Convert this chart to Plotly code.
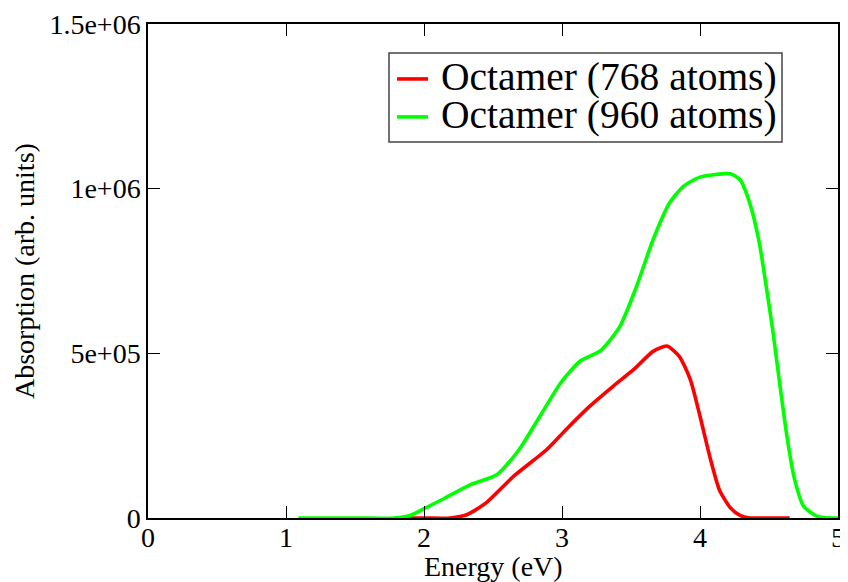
import plotly.graph_objects as go

# Octamer (768 atoms)
energy_768 = [1.79, 2.0, 2.19, 2.31, 2.45, 2.65, 2.89, 3.03, 3.20, 3.37, 3.52, 3.66, 3.76,
              3.85, 3.93, 4.00, 4.07, 4.14, 4.22, 4.29, 4.36, 4.50, 4.65]
absorb_768 = [0, 0, 0, 10e3, 46e3, 127e3, 208e3, 269e3, 339e3, 400e3, 451e3, 506e3, 522e3,
              491e3, 420e3, 309e3, 188e3, 86e3, 31e3, 8e3, 0, 0, 0]

# Octamer (960 atoms)
energy_960 = [1.09, 1.5, 1.78, 1.90, 1.99, 2.15, 2.33, 2.53, 2.69, 2.84, 2.99, 3.13, 3.28,
              3.42, 3.54, 3.66, 3.78, 3.88, 4.00, 4.22, 4.29, 4.36, 4.43, 4.48, 4.53,
              4.58, 4.63, 4.68, 4.75, 4.85, 4.96, 5.0]
absorb_960 = [0, 0, 0, 8e3, 26e3, 60e3, 100e3, 132e3, 208e3, 309e3, 410e3, 476e3, 508e3,
              582e3, 703e3, 845e3, 957e3, 1007e3, 1035e3, 1045e3, 1027e3, 957e3, 835e3,
              703e3, 562e3, 400e3, 248e3, 127e3, 36e3, 5e3, 0, 0]

series_names = ["Octamer (768 atoms)", "Octamer (960 atoms)"]
series_colors = ["#ff0000", "#00ff00"]

x_ticks = [0, 1, 2, 3, 4, 5]
y_ticks = [0, 5e5, 1e6, 1.5e6]
y_tick_labels = ["0", "5e+05", "1e+06", "1.5e+06"]

FONT = "Liberation Serif, Times New Roman, serif"

# page offset (default body margin) and plot-area geometry in window pixels
OFF = 8
W, H = 848 - OFF, 582 - OFF
PL, PR, PT, PB = 148, 838, 24, 518.5          # plot area in window pixels
L, R, T, B = PL - OFF, (OFF + W) - PR, PT - OFF, (OFF + H) - PB


def px(xp):
    return (xp - PL) / (PR - PL)


def py(yp):
    return (PB - yp) / (PB - PT)


fig = go.Figure()
fig.add_trace(go.Scatter(x=energy_768, y=absorb_768, mode="lines",
                         line=dict(color=series_colors[0], width=3.6, shape="spline", smoothing=0.6),
                         name=series_names[0], showlegend=False))
fig.add_trace(go.Scatter(x=energy_960, y=absorb_960, mode="lines",
                         line=dict(color=series_colors[1], width=3.6, shape="spline", smoothing=0.6),
                         name=series_names[1], showlegend=False))

axis_common = dict(showline=True, linecolor="black", linewidth=1.5, mirror="allticks",
                   ticks="inside", ticklen=12, tickwidth=1.2, tickcolor="black",
                   showgrid=False, zeroline=False, automargin=False,
                   tickfont=dict(family=FONT, size=28, color="black"))

fig.update_xaxes(range=[0, 5], tickvals=x_ticks, ticktext=[str(v) for v in x_ticks],
                 ticklabelstandoff=-6, **axis_common)
fig.update_yaxes(range=[0, 1.5e6], tickvals=y_ticks, ticktext=y_tick_labels,
                 **axis_common)

annotations = [
    dict(text="Energy (eV)", xref="paper", yref="paper", x=0.5, y=py(567),
         xanchor="center", yanchor="middle", showarrow=False,
         font=dict(family=FONT, size=28, color="black")),
    dict(text="Absorption (arb. units)", xref="paper", yref="paper", x=px(24), y=0.5,
         xanchor="center", yanchor="middle", showarrow=False, textangle=-90,
         font=dict(family=FONT, size=28, color="black")),
]

# custom legend (box, line samples, labels)
shapes = [dict(type="rect", xref="paper", yref="paper",
               x0=px(389), x1=px(782), y0=py(142), y1=py(53),
               line=dict(color="#444", width=1.5), fillcolor="white", layer="above")]
legend_rows = [79, 117]
for name, color, row in zip(series_names, series_colors, legend_rows):
    shapes.append(dict(type="line", xref="paper", yref="paper",
                       x0=px(397), x1=px(428), y0=py(row), y1=py(row),
                       line=dict(color=color, width=3.6), layer="above"))
    annotations.append(dict(text=name, xref="paper", yref="paper", x=px(439), y=py(row - 2),
                            xanchor="left", yanchor="middle", showarrow=False,
                            font=dict(family=FONT, size=39.5, color="black")))

fig.update_layout(
    width=W, height=H,
    margin=dict(l=L, r=R, t=T, b=B, pad=0),
    plot_bgcolor="white", paper_bgcolor="white",
    font=dict(family=FONT, color="black"),
    showlegend=False,
    shapes=shapes,
    annotations=annotations,
)

fig.write_html("out.html")
